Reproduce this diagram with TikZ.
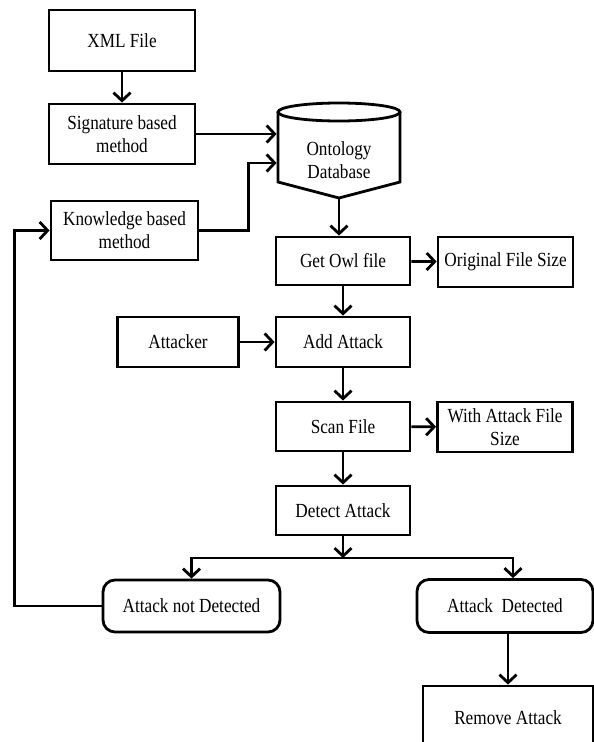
\documentclass[tikz,border=0pt]{standalone}
\usepackage{fontspec}
\setmainfont{Liberation Serif}[FakeStretch=0.86]
\usetikzlibrary{arrows.meta, positioning}

\begin{document}
\begin{tikzpicture}[x=1pt, y=-1pt,
  blk/.style={draw, line width=2.8pt, align=center, inner sep=1pt, font=\fontsize{20}{23}\selectfont},
  rblk/.style={blk, rounded corners=12pt},
  lnk/.style={line width=2.8pt},
  arr/.style={lnk, -{Straight Barb[length=8pt,width=17pt]}}]
\useasboundingbox (0,0) rectangle (594,742);
\clip (0,0) rectangle (594,742);

% left column
\node[blk, minimum width=146pt, minimum height=61pt] (xml) at (122,40.5) {XML File};
\node[blk, minimum width=146pt, minimum height=60pt] (sig) at (122,134) {Signature based\\method};
\node[blk, minimum width=147pt, minimum height=59pt] (know) at (124.5,230.5) {Knowledge based\\method};
\node[blk, minimum width=121pt, minimum height=50pt] (attacker) at (178,342) {Attacker};

% database
\node[blk, draw=none, minimum width=122pt] (db) at (339,160) {Ontology\\Database};
\draw[lnk] ([shift={(-61,-48)}]db.center) -- ([shift={(-61,22)}]db.center)
  -- ([shift={(0,38)}]db.center) -- ([shift={(61,22)}]db.center) -- ([shift={(61,-48)}]db.center);
\draw[lnk] ([shift={(0,-48)}]db.center) ellipse [x radius=61, y radius=9];
\coordinate (dbtip) at ([shift={(0,38)}]db.center);

% main column
\node[blk, minimum width=134pt, minimum height=48pt] (get) at (343,261) {Get Owl file};
\node[blk, minimum width=135pt, minimum height=50pt] (orig) at (505.5,262) {Original File Size};
\node[blk, minimum width=134pt, minimum height=50pt] (add) at (343,342) {Add Attack};
\node[blk, minimum width=134pt, minimum height=49pt] (scan) at (343,426.5) {Scan File};
\node[blk, minimum width=135pt, minimum height=50pt] (withsize) at (505,427) {With Attack File\\Size};
\node[blk, minimum width=134pt, minimum height=49pt] (detect) at (343,510.5) {Detect Attack};

% results
\node[rblk, minimum width=177pt, minimum height=52pt] (notdet) at (191.5,606) {Attack not Detected};
\node[rblk, minimum width=176pt, minimum height=53pt] (det) at (505,606) {Attack~~Detected};
\node[blk, minimum width=170pt, minimum height=64pt] (remove) at (508,718) {Remove Attack};

% connectors
\draw[arr] (xml) -- (sig);
\draw[arr] (sig.east) -- (sig.east -| db.west);
\draw[arr] (know.east) -- ++(49,0) |- ([yshift=-3pt]db.west);
\draw[arr] (dbtip) -- (dbtip |- get.north);
\draw[arr] (get) -- (orig);
\draw[arr] (get) -- (add);
\draw[arr] (attacker) -- (add);
\draw[arr] (add) -- (scan);
\draw[arr] (scan) -- (withsize);
\draw[arr] (scan) -- (detect);
\coordinate (split) at (343,558);
\draw[arr] (detect) -- (split);
\draw[arr] (split) -| (notdet.north);
\draw[arr] (split) -| ([xshift=8pt]det.north);
\draw[arr] (det.south -| remove.north) -- (remove.north);
\draw[arr] (notdet.west) -- ++(-87,0) |- (know.west);
\end{tikzpicture}
\end{document}
